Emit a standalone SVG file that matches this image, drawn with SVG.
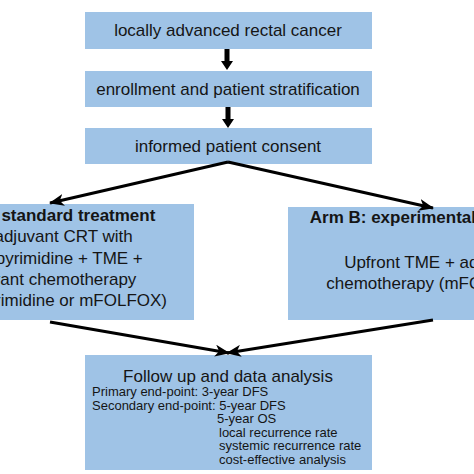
<svg xmlns="http://www.w3.org/2000/svg" width="474" height="474" viewBox="0 0 474 474">
<style>
.box{fill:#9fc3e6;}
.t{font-family:"Liberation Sans",Arial,sans-serif;fill:#151515;}
.m{font-size:17px;text-anchor:middle;}
.b{font-weight:bold;}
.s{font-size:13px;}
.c{stroke:#000;stroke-width:3;fill:none;}
</style>
<defs>
<marker id="ah" markerUnits="userSpaceOnUse" markerWidth="16" markerHeight="12" refX="14" refY="6" orient="auto">
<path d="M0,0 L15,6 L0,12 L4,6 z" fill="#000"/>
</marker>
</defs>
<rect width="474" height="474" fill="#fff"/>
<g id="n1"><rect class="box" x="85" y="12" width="287" height="37"/><text class="t m" x="228" y="36">locally advanced rectal cancer</text></g>
<g id="n2"><rect class="box" x="85" y="71" width="287" height="36"/><text class="t m" x="228" y="95">enrollment and patient stratification</text></g>
<g id="n3"><rect class="box" x="85" y="128" width="287" height="36"/><text class="t m" x="228" y="152">informed patient consent</text></g>
<g id="armA"><rect class="box" x="-100" y="204" width="294" height="116"/>
<text class="t m b" x="48" y="221">Arm A: standard treatment</text>
<text class="t m" x="48" y="242">Neoadjuvant CRT with</text>
<text class="t m" x="48" y="264">fluoropyrimidine + TME +</text>
<text class="t m" x="48" y="285">adjuvant chemotherapy</text>
<text class="t m" x="48" y="306">(fluoropyrimidine or mFOLFOX)</text>
</g>
<g id="armB"><rect class="box" x="288" y="207" width="294" height="113"/>
<text class="t m b" x="434" y="223">Arm B: experimental treatment</text>
<text class="t m" x="434" y="268">Upfront TME + adjuvant</text>
<text class="t m" x="434" y="289">chemotherapy (mFOLFOX6)</text>
</g>
<g id="n4"><rect class="box" x="85" y="355" width="287" height="115"/>
<text class="t m" x="228" y="382">Follow up and data analysis</text>
<text class="t s" x="92" y="396">Primary end-point: 3-year DFS</text>
<text class="t s" x="92" y="409.5">Secondary end-point: 5-year DFS</text>
<text class="t s" x="217" y="423">5-year OS</text>
<text class="t s" x="219" y="436.5">local recurrence rate</text>
<text class="t s" x="219" y="450">systemic recurrence rate</text>
<text class="t s" x="219" y="463.5">cost-effective analysis</text>
</g>
<g id="connectors">
<path d="M224.5,49 H229.5 V61 H233 L227,70 L221,61 H224.5 Z" fill="#000"/>
<path d="M225.5,107 H230.5 V119 H234 L228,128 L222,119 H225.5 Z" fill="#000"/>
<path class="c" d="M228,162 L50,203" marker-end="url(#ah)"/>
<path class="c" d="M228,162 L433,208" marker-end="url(#ah)"/>
<path class="c" d="M50,322 L229,353" marker-end="url(#ah)"/>
<path class="c" d="M433,320 L227,353" marker-end="url(#ah)"/>
</g>
</svg>
